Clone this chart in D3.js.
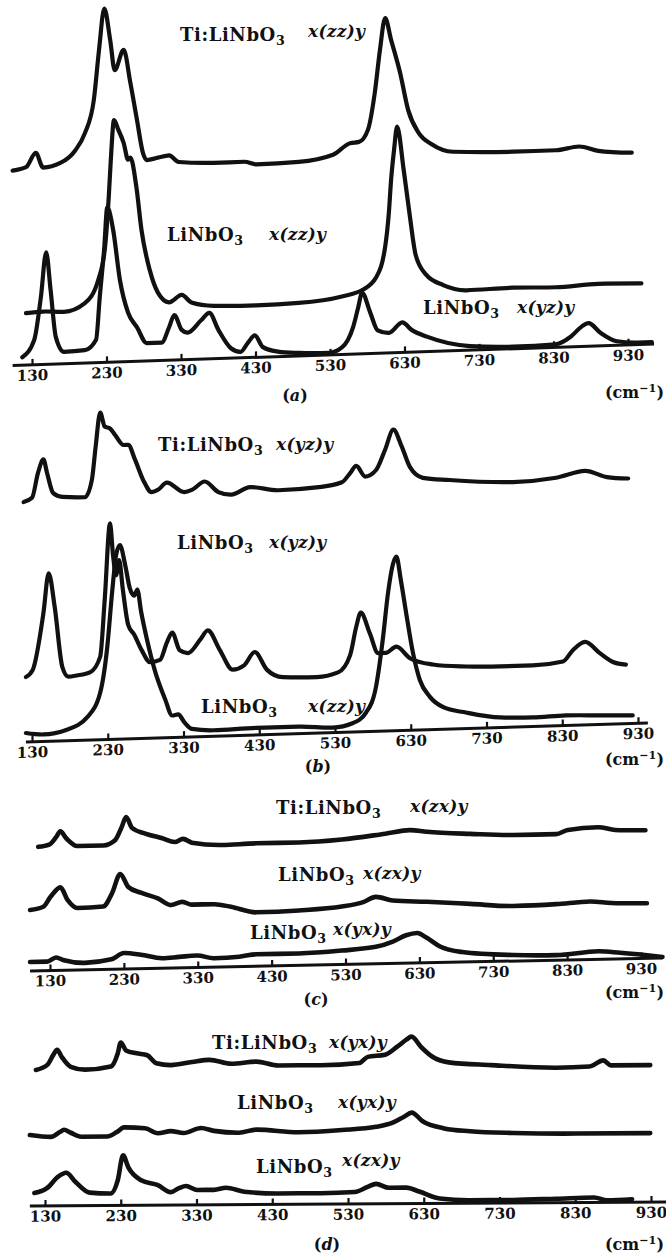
<!DOCTYPE html>
<html>
<head>
<meta charset="utf-8">
<script src="https://cdn.jsdelivr.net/npm/d3@7"></script>
<style>
  body { margin: 0; background: #fff; }
  svg text { font-family: "DejaVu Serif", serif; fill: #111; }
  .name { font-size: 18px; font-weight: bold; letter-spacing: 0.6px; }
  .geom { font-size: 17px; font-style: italic; font-weight: bold; letter-spacing: 0.3px; }
  .tag, .unit { font-size: 16px; font-weight: bold; }
</style>
</head>
<body>
<div id="chart"></div>
<script>
// Raman spectra: [wavenumber (cm-1), height above the axis (a.u.)]
const tickValues = [130, 230, 330, 430, 530, 630, 730, 830, 930];

// (a)
const aTiZz = [[104,195],[122,198],[135,212],[145,197],[168,201],[188,213],[201,230],[213,263],[220,313],[227,354],[235,322],[241,292],[253,312],[262,279],[271,241],[279,208],[284,201],[299,203],[314,205],[327,198],[374,196],[415,196],[431,193],[488,194],[534,200],[557,211],[569,212],[581,224],[590,260],[597,303],[604,335],[612,313],[624,280],[635,242],[649,219],[667,207],[695,199],[776,197],[833,197],[864,200],[890,195],[935,192]];
const aLnZz = [[122,52],[145,53],[173,52],[201,60],[219,83],[228,115],[233,165],[236,205],[240,242],[246,232],[253,219],[259,202],[262,204],[270,175],[277,131],[288,91],[299,68],[314,58],[331,65],[344,57],[374,53],[431,52],[488,53],[546,58],[574,64],[592,76],[604,106],[609,140],[612,173],[616,203],[620,226],[629,182],[637,137],[645,97],[659,77],[682,66],[713,60],[776,61],[833,60],[890,62],[948,61]];
const aLnYz = [[117,8],[133,25],[142,68],[149,112],[155,74],[162,27],[173,12],[201,13],[216,23],[221,66],[227,115],[231,155],[239,132],[248,82],[259,49],[271,34],[284,18],[304,18],[314,33],[321,45],[331,30],[339,27],[357,39],[368,46],[380,29],[397,10],[410,6],[420,15],[429,22],[440,10],[460,5],[488,3],[529,2],[546,7],[561,27],[568,47],[573,61],[584,41],[594,23],[609,20],[627,30],[640,22],[660,15],[718,4],[776,2],[833,3],[853,10],[868,20],[877,23],[893,13],[915,4],[943,2],[962,2]];
const aSpan = [104, 965];
const aLabels = [['Ti:LiNbO', 'x(zz)y'], ['LiNbO', 'x(zz)y'], ['LiNbO', 'x(yz)y']];

// (b)
const bTiYz = [[119,240],[130,244],[138,269],[145,282],[150,268],[158,248],[170,244],[200,243],[209,260],[214,293],[220,327],[226,313],[233,311],[240,304],[251,294],[257,294],[266,279],[277,258],[288,246],[296,248],[308,255],[331,245],[341,247],[358,255],[376,244],[393,241],[418,248],[455,244],[512,246],[539,250],[550,259],[558,266],[570,255],[584,261],[596,281],[607,301],[618,284],[629,263],[646,252],[681,249],[765,245],[822,248],[860,254],[889,247],[917,245]];
const bLnYz = [[122,65],[131,72],[145,128],[152,168],[160,134],[170,74],[178,64],[189,65],[207,68],[220,83],[226,140],[233,216],[237,184],[241,164],[245,179],[250,149],[257,114],[265,104],[275,88],[286,76],[299,78],[308,95],[315,105],[325,87],[336,84],[352,97],[362,106],[378,86],[395,66],[410,70],[424,83],[440,65],[461,57],[506,56],[534,60],[550,77],[558,105],[564,119],[576,98],[587,78],[597,78],[611,84],[629,72],[659,65],[703,62],[748,61],[791,61],[831,64],[844,75],[860,83],[880,71],[897,62],[914,59]];
const bLnZz = [[122,9],[145,7],[176,11],[203,23],[220,47],[229,90],[236,149],[241,184],[246,194],[253,174],[259,151],[265,143],[269,149],[274,127],[282,98],[292,68],[306,38],[315,22],[323,23],[331,15],[341,8],[370,6],[426,7],[482,7],[527,5],[554,9],[571,19],[584,44],[593,91],[600,138],[607,168],[611,174],[617,150],[624,117],[633,77],[642,50],[655,33],[673,22],[703,16],[748,10],[791,9],[835,10],[880,9],[923,8]];
const bSpan = [122, 943];
const bLabels = [['Ti:LiNbO', 'x(yz)y'], ['LiNbO', 'x(yz)y'], ['LiNbO', 'x(zz)y']];

// (c)
const cTiZx = [[114,124],[129,126],[138,133],[144,139],[152,132],[167,124],[202,124],[218,129],[227,142],[233,152],[241,141],[259,135],[282,130],[299,126],[310,129],[322,125],[363,122],[409,123],[467,123],[525,125],[584,130],[617,133],[640,131],[699,128],[757,126],[815,126],[831,130],[872,132],[895,129],[936,128]];
const cLnZx = [[103,61],[121,64],[131,74],[144,83],[154,70],[167,62],[202,63],[214,76],[225,95],[236,82],[253,76],[276,70],[294,63],[309,66],[322,63],[352,63],[375,60],[409,54],[467,55],[525,58],[554,62],[571,67],[594,63],[640,61],[699,58],[757,55],[815,56],[861,58],[890,56],[938,55]];
const cLnYx = [[103,9],[126,9],[138,13],[149,10],[177,7],[213,10],[230,16],[253,14],[282,10],[305,11],[329,12],[352,9],[386,10],[409,12],[467,12],[525,14],[571,17],[594,22],[612,28],[627,30],[640,25],[658,16],[688,10],[757,6],[815,5],[872,8],[902,6],[959,1]];
const cSpan = [103, 959];
const cLabels = [['Ti:LiNbO', 'x(zx)y'], ['LiNbO', 'x(zx)y'], ['LiNbO', 'x(yx)y']];

// (d)
const dTiYx = [[118,136],[133,141],[141,151],[146,156],[152,149],[164,139],[183,136],[217,139],[226,152],[230,163],[237,155],[251,152],[265,150],[277,142],[296,140],[324,143],[347,145],[376,141],[409,143],[438,139],[494,139],[545,141],[556,147],[579,149],[595,157],[607,164],[614,167],[626,157],[641,147],[663,141],[719,138],[805,135],[849,136],[867,142],[877,137],[929,137]];
const dLnYx = [[110,71],[138,69],[150,74],[155,76],[164,73],[178,69],[212,69],[226,74],[234,78],[262,77],[279,72],[296,74],[313,72],[336,77],[353,74],[386,72],[409,75],[465,72],[522,74],[567,77],[589,81],[604,87],[614,91],[629,82],[657,75],[691,72],[748,70],[832,69],[929,69]];
const dLnZx = [[116,13],[133,18],[147,29],[158,33],[170,24],[189,13],[217,12],[226,25],[233,50],[240,38],[257,25],[279,20],[296,13],[307,17],[316,19],[331,15],[353,15],[369,17],[393,13],[438,11],[494,11],[539,12],[556,17],[567,20],[584,16],[607,16],[624,12],[651,5],[691,3],[748,3],[805,4],[855,5],[872,2],[905,3]];
const dSpan = [110, 951];
const dLabels = [['Ti:LiNbO', 'x(yx)y'], ['LiNbO', 'x(yx)y'], ['LiNbO', 'x(zx)y']];

// page layout; the scanned axes lean a little, so each panel is sheared to follow
const panels = [
  { tag: 'a', series: [aTiZz, aLnZz, aLnYz], span: aSpan, labels: aLabels, range: [32, 628], y0: 366, slope: -0.0337, width: 4.2,
    labelPos: [[180, 41, 308, 37], [167, 241, 269, 240], [423, 314, 517, 313]], tagY: 401, unitY: 398 },
  { tag: 'b', series: [bTiYz, bLnYz, bLnZz], span: bSpan, labels: bLabels, range: [32, 638], y0: 742.8, slope: -0.0307, width: 4.2,
    labelPos: [[158, 451, 276, 450], [177, 549, 269, 548], [201, 713, 308, 712]], tagY: 772, unitY: 765 },
  { tag: 'c', series: [cTiZx, cLnZx, cLnYx], span: cSpan, labels: cLabels, range: [50, 641], y0: 971.6, slope: -0.0206, width: 4.6,
    labelPos: [[276, 814, 410, 812], [278, 881, 363, 879], [250, 939, 333, 935]], tagY: 1005, unitY: 998 },
  { tag: 'd', series: [dTiYx, dLnYx, dLnZx], span: dSpan, labels: dLabels, range: [45, 651], y0: 1206.2, slope: -0.0063, width: 4.6,
    labelPos: [[212, 1049, 329, 1048], [237, 1109, 338, 1108], [256, 1173, 342, 1166]], tagY: 1250, unitY: 1250 }
];

const ink = '#111';
const tagX = { a: 295, b: 318, c: 316, d: 327 };

const svg = d3.select('#chart').append('svg')
  .attr('width', 666)
  .attr('height', 1258);

const yScale = d3.scaleLinear().domain([0, 400]).range([0, -400]);

function drawLabel(name, geom, pos) {
  const t = svg.append('text').attr('class', 'name').attr('x', pos[0]).attr('y', pos[1]);
  t.append('tspan').text(name);
  t.append('tspan').attr('dy', 4).attr('font-size', '70%').text('3');
  svg.append('text').attr('class', 'geom').attr('x', pos[2]).attr('y', pos[3]).text(geom);
}

panels.forEach(function(p) {
  const x = d3.scaleLinear().domain([130, 930]).range(p.range);
  const angle = Math.atan(p.slope) * 180 / Math.PI;

  const g = svg.append('g')
    .attr('transform', `translate(0,${p.y0}) skewY(${angle})`);

  g.append('line')
    .attr('x1', x(p.span[0]))
    .attr('x2', x(p.span[1]))
    .attr('y1', 0)
    .attr('y2', 0)
    .attr('stroke', ink)
    .attr('stroke-width', 3);

  const axis = d3.axisBottom(x)
    .tickValues(tickValues)
    .tickSizeInner(-6)
    .tickSizeOuter(0)
    .tickPadding(5);

  const ag = g.append('g').call(axis);
  ag.select('.domain').remove();
  ag.attr('font-family', '"DejaVu Serif", serif').attr('font-size', 15).attr('font-weight', 'bold');
  ag.selectAll('.tick line').attr('stroke', ink).attr('stroke-width', 2.2);
  ag.selectAll('.tick text').attr('fill', ink);

  const line = d3.line()
    .x(d => x(d[0]))
    .y(d => yScale(d[1]))
    .curve(d3.curveMonotoneX);

  p.series.forEach(function(s) {
    g.append('path')
      .datum(s)
      .attr('d', line)
      .attr('fill', 'none')
      .attr('stroke', ink)
      .attr('stroke-width', p.width)
      .attr('stroke-linejoin', 'round')
      .attr('stroke-linecap', 'round');
  });

  p.labels.forEach((l, i) => drawLabel(l[0], l[1], p.labelPos[i]));

  const tag = svg.append('text').attr('class', 'tag')
    .attr('x', tagX[p.tag]).attr('y', p.tagY).attr('text-anchor', 'middle');
  tag.append('tspan').text('(');
  tag.append('tspan').attr('font-style', 'italic').text(p.tag);
  tag.append('tspan').text(')');

  const unit = svg.append('text').attr('class', 'unit')
    .attr('x', 664).attr('y', p.unitY).attr('text-anchor', 'end');
  unit.append('tspan').text('(cm');
  unit.append('tspan').attr('dy', -6).attr('font-size', '70%').text('−1');
  unit.append('tspan').attr('dy', 6).text(')');
});
</script>
</body>
</html>
